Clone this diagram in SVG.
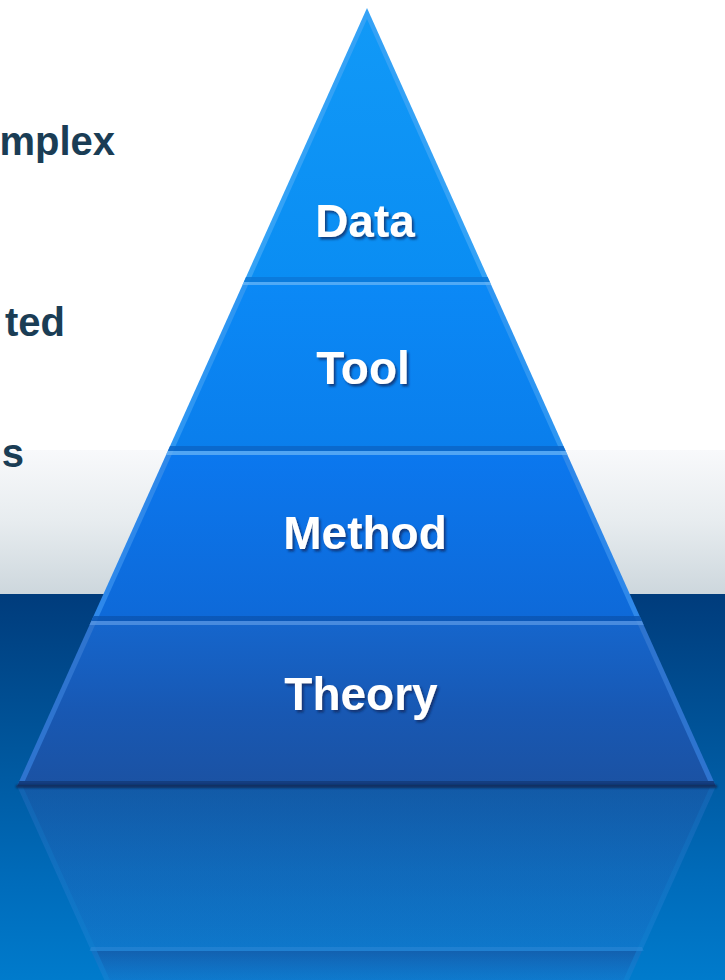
<svg xmlns="http://www.w3.org/2000/svg" width="725" height="980" viewBox="0 0 725 980">
  <defs>
    <style>
      .side { font-family: "Liberation Sans", Arial, sans-serif; font-weight: bold; font-size: 40px; fill: #1a3d55; text-anchor: end; }
      .label { font-family: "Liberation Sans", Arial, sans-serif; font-weight: bold; font-size: 46px; fill: #ffffff; text-anchor: middle; filter: url(#textShadow); }
      .hi { fill: #6db8f7; opacity: 0.7; }
      .lo { opacity: 0.85; }
    </style>
    <!-- backdrop: white sky, grey horizon, deep blue water -->
    <linearGradient id="sky" x1="0" y1="0" x2="0" y2="1">
      <stop offset="0" stop-color="#f8f9fb"/>
      <stop offset="0.5" stop-color="#e7ecef"/>
      <stop offset="1" stop-color="#cdd7dd"/>
    </linearGradient>
    <linearGradient id="water" x1="0" y1="0" x2="0" y2="1">
      <stop offset="0" stop-color="#003c7c"/>
      <stop offset="0.4" stop-color="#00569c"/>
      <stop offset="0.75" stop-color="#006cbb"/>
      <stop offset="1" stop-color="#007bcc"/>
    </linearGradient>
    <!-- tier fills -->
    <linearGradient id="gData" x1="0" y1="0" x2="0" y2="1">
      <stop offset="0" stop-color="#1199f7"/>
      <stop offset="1" stop-color="#0a8df3"/>
    </linearGradient>
    <linearGradient id="gTool" x1="0" y1="0" x2="0" y2="1">
      <stop offset="0" stop-color="#0b89f6"/>
      <stop offset="1" stop-color="#0a7eec"/>
    </linearGradient>
    <linearGradient id="gMethod" x1="0" y1="0" x2="0" y2="1">
      <stop offset="0" stop-color="#0b78ef"/>
      <stop offset="1" stop-color="#0e69d8"/>
    </linearGradient>
    <linearGradient id="gTheory" x1="0" y1="0" x2="0" y2="1">
      <stop offset="0" stop-color="#1566cd"/>
      <stop offset="0.55" stop-color="#1858b3"/>
      <stop offset="1" stop-color="#1b52a3"/>
    </linearGradient>
    <linearGradient id="gReflect" x1="0" y1="0" x2="0" y2="1">
      <stop offset="0" stop-color="#12509c" stop-opacity="0.5"/>
      <stop offset="1" stop-color="#0d6cc4" stop-opacity="0.3"/>
    </linearGradient>
    <linearGradient id="gReflectEdge" x1="0" y1="0" x2="0" y2="1">
      <stop offset="0" stop-color="#2a6cc0" stop-opacity="0.45"/>
      <stop offset="1" stop-color="#2a88da" stop-opacity="0.35"/>
    </linearGradient>
    <filter id="textShadow" x="-10%" y="-20%" width="125%" height="150%">
      <feDropShadow dx="2" dy="2.5" stdDeviation="1.3" flood-color="#0a2860" flood-opacity="0.75"/>
    </filter>
    <filter id="soft" x="-5%" y="-50%" width="110%" height="300%">
      <feGaussianBlur stdDeviation="1"/>
    </filter>
  </defs>

  <!-- backdrop -->
  <rect x="0" y="0" width="725" height="450" fill="#ffffff"/>
  <rect x="0" y="450" width="725" height="144" fill="url(#sky)"/>
  <rect x="0" y="594" width="725" height="386" fill="url(#water)"/>

  <!-- side captions -->
  <g id="captions">
    <text class="side" x="115" y="155">mplex</text>
    <text class="side" x="65" y="336">ted</text>
    <text class="side" x="24" y="467">s</text>
  </g>

  <!-- mirrored image of the base in the water -->
  <g id="reflection">
    <polygon points="17.1,786 715.9,786 641.9,951 91.3,951" fill="url(#gReflectEdge)"/>
    <polygon points="22.6,786 710.4,786 636.4,951 96.8,951" fill="url(#gReflect)"/>
    <polygon points="91.3,947 641.9,947 643.7,951 89.5,951" fill="#4a94e0" opacity="0.3"/>
    <polygon points="91.3,951 641.9,951 628.9,980 104.4,980" fill="url(#gReflectEdge)"/>
    <polygon points="96.8,951 636.4,951 623.4,980 109.9,980" fill="url(#gReflect)"/>
  </g>

  <!-- pyramid tiers, top to bottom -->
  <g id="tier-data">
    <polygon points="367,8 489.9,282 243.8,282" fill="#34a2f6"/>
    <polygon points="367,19 484.4,282 249.3,282" fill="url(#gData)"/>
    <polygon class="lo" points="246.0,277 487.6,277 489.9,282 243.8,282" fill="#0a78d8"/>
    <text class="label" x="365" y="237">Data</text>
  </g>

  <g id="tier-tool">
    <polygon points="243.8,282 489.9,282 565.7,451 167.8,451" fill="#2e96f2"/>
    <polygon points="249.3,282 484.4,282 560.2,451 173.3,451" fill="url(#gTool)"/>
    <polygon class="hi" points="243.8,282 489.9,282 491.2,285 242.4,285"/>
    <polygon class="lo" points="170.0,446 563.4,446 565.7,451 167.8,451" fill="#0a65c8"/>
    <text class="label" x="363" y="384">Tool</text>
  </g>

  <g id="tier-method">
    <polygon points="167.8,451 565.7,451 641.9,621 91.3,621" fill="#2e88ea"/>
    <polygon points="173.3,451 560.2,451 636.4,621 96.8,621" fill="url(#gMethod)"/>
    <polygon class="hi" points="167.8,451 565.7,451 567.5,455 166.0,455"/>
    <polygon class="lo" points="93.6,616 639.7,616 641.9,621 91.3,621" fill="#0a56b4"/>
    <text class="label" x="365" y="549">Method</text>
  </g>

  <g id="tier-theory">
    <polygon points="91.3,621 641.9,621 715.9,786 17.1,786" fill="#2e74cf"/>
    <polygon points="96.8,621 636.4,621 710.4,786 22.6,786" fill="url(#gTheory)"/>
    <polygon points="91.3,621 641.9,621 643.7,625 89.5,625" fill="#5a98e4" opacity="0.75"/>
    <polygon points="19.4,781 713.7,781 715.9,786 17.1,786" fill="#143e80"/>
    <text class="label" x="361" y="710">Theory</text>
  </g>

  <!-- shadow line where the base meets the water -->
  <rect x="16" y="785" width="701" height="3" fill="#0a2550" opacity="0.85" filter="url(#soft)"/>
</svg>
